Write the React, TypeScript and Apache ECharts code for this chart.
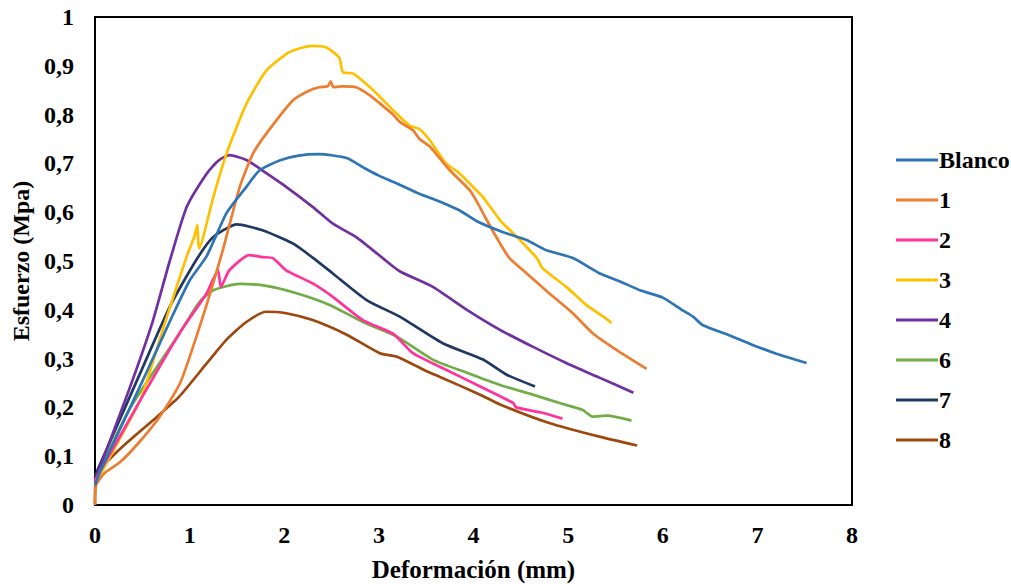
import React, { useEffect, useRef } from "react";
import * as echarts from "echarts";

const seriesNames = ["Blanco", "1", "2", "3", "4", "6", "7", "8"];
const seriesColors = ["#2E75B6", "#ED7D31", "#FF3399", "#FFC000", "#7030A0", "#70AD47", "#1F3864", "#9E480E"];

const blanco = [[0,0.04],[0.05,0.066],[0.3,0.17],[0.54,0.27],[0.8,0.38],[1.0,0.46],[1.18,0.51],[1.39,0.598],[1.6,0.652],[1.74,0.686],[1.95,0.706],[2.15,0.716],[2.37,0.719],[2.66,0.711],[2.85,0.69],[3.0,0.675],[3.19,0.659],[3.4,0.64],[3.6,0.625],[3.85,0.604],[4.03,0.582],[4.3,0.56],[4.56,0.543],[4.77,0.522],[5.05,0.506],[5.33,0.475],[5.55,0.458],[5.76,0.44],[6.0,0.425],[6.2,0.4],[6.32,0.386],[6.42,0.369],[6.7,0.348],[6.95,0.328],[7.2,0.31],[7.52,0.291]];
const s1 = [[0,0.0],[0.01,0.04],[0.1,0.065],[0.26,0.087],[0.45,0.125],[0.68,0.18],[0.9,0.25],[1.14,0.386],[1.35,0.522],[1.53,0.652],[1.67,0.72],[1.81,0.761],[2.09,0.829],[2.25,0.848],[2.37,0.856],[2.46,0.858],[2.49,0.868],[2.52,0.856],[2.6,0.858],[2.76,0.856],[2.9,0.84],[3.01,0.823],[3.15,0.8],[3.22,0.785],[3.36,0.768],[3.43,0.75],[3.54,0.734],[3.75,0.686],[3.96,0.645],[4.04,0.62],[4.14,0.584],[4.28,0.536],[4.38,0.506],[4.56,0.475],[4.8,0.434],[5.05,0.393],[5.26,0.352],[5.51,0.318],[5.83,0.279]];
const s2 = [[0,0.05],[0.5,0.222],[0.89,0.351],[1.18,0.434],[1.3,0.481],[1.33,0.447],[1.42,0.481],[1.63,0.512],[1.77,0.508],[1.88,0.506],[2.02,0.481],[2.3,0.454],[2.51,0.427],[2.83,0.379],[3.15,0.351],[3.36,0.311],[3.71,0.277],[4.07,0.243],[4.42,0.209],[4.45,0.2],[4.73,0.189],[4.94,0.177]];
const s3 = [[0,0.04],[0.05,0.06],[0.33,0.16],[0.49,0.22],[0.75,0.38],[0.97,0.51],[1.05,0.55],[1.08,0.573],[1.1,0.526],[1.25,0.631],[1.39,0.72],[1.6,0.822],[1.81,0.89],[2.02,0.924],[2.15,0.935],[2.3,0.941],[2.44,0.938],[2.58,0.917],[2.62,0.887],[2.73,0.884],[2.94,0.85],[3.15,0.809],[3.32,0.778],[3.43,0.77],[3.54,0.747],[3.71,0.7],[3.85,0.68],[4.03,0.645],[4.1,0.631],[4.28,0.584],[4.49,0.543],[4.67,0.506],[4.73,0.485],[4.98,0.447],[5.19,0.41],[5.38,0.385],[5.46,0.373]];
const s4 = [[0,0.05],[0.36,0.236],[0.6,0.37],[0.79,0.5],[0.97,0.611],[1.18,0.679],[1.3,0.705],[1.42,0.717],[1.6,0.707],[1.81,0.68],[2.02,0.652],[2.3,0.611],[2.51,0.577],[2.76,0.549],[3.04,0.506],[3.22,0.479],[3.57,0.447],[3.93,0.4],[4.28,0.359],[4.63,0.324],[4.98,0.291],[5.33,0.261],[5.69,0.23]];
const s6 = [[0,0.05],[0.36,0.195],[0.89,0.351],[1.1,0.415],[1.25,0.44],[1.53,0.453],[1.81,0.449],[2.13,0.434],[2.48,0.41],[2.83,0.375],[3.19,0.345],[3.57,0.298],[3.93,0.271],[4.28,0.246],[4.63,0.226],[4.91,0.209],[5.15,0.195],[5.26,0.181],[5.41,0.183],[5.67,0.173]];
const s7 = [[0,0.06],[0.5,0.28],[0.8,0.41],[1.07,0.502],[1.25,0.549],[1.5,0.575],[1.77,0.563],[2.09,0.536],[2.3,0.507],[2.51,0.475],[2.87,0.42],[3.22,0.386],[3.68,0.331],[4.1,0.298],[4.35,0.267],[4.65,0.243]];
const s8 = [[0,0.0],[0.01,0.058],[0.26,0.114],[0.65,0.18],[0.89,0.222],[1.18,0.29],[1.39,0.339],[1.6,0.375],[1.81,0.396],[2.02,0.393],[2.3,0.379],[2.66,0.349],[3.01,0.311],[3.19,0.304],[3.54,0.271],[3.64,0.263],[4.07,0.226],[4.28,0.206],[4.8,0.168],[5.33,0.14],[5.73,0.122]];
const seriesData = [blanco, s1, s2, s3, s4, s6, s7, s8];

const FONT = "'Liberation Serif', 'Times New Roman', serif";

export default function App() {
  const ref = useRef<HTMLDivElement>(null);
  useEffect(() => {
    if (!ref.current) return;
    const chart = echarts.init(ref.current, null, { renderer: "svg" });
    chart.setOption({
      animation: false,
      backgroundColor: "#fff",
      grid: { left: 95, top: 17, right: 159, bottom: 79, show: true, borderColor: "#000", borderWidth: 2, backgroundColor: "transparent", containLabel: false, outerBoundsMode: "none" },
      legend: {
        orient: "vertical",
        left: 891,
        top: 143,
        itemWidth: 42,
        itemHeight: 3,
        itemGap: 16,
        icon: "rect",
        data: seriesNames,
        textStyle: { fontFamily: FONT, fontWeight: "bold", fontSize: 24, color: "#000", lineHeight: 24, padding: [0, 0, 0, -4] },
      },
      xAxis: {
        type: "value",
        min: 0,
        max: 8,
        interval: 1,
        axisLine: { show: true, lineStyle: { color: "#000", width: 2 } },
        axisTick: { show: false },
        splitLine: { show: false },
        axisLabel: { fontFamily: FONT, fontWeight: "bold", fontSize: 24, color: "#000", margin: 18 },
        name: "Deformación (mm)",
        nameLocation: "middle",
        nameGap: 52,
        nameTextStyle: { fontFamily: FONT, fontWeight: "bold", fontSize: 25, color: "#000", lineHeight: 25 },
      },
      yAxis: {
        type: "value",
        min: 0,
        max: 1,
        interval: 0.1,
        axisLine: { show: true, lineStyle: { color: "#000", width: 2 } },
        axisTick: { show: false },
        splitLine: { show: false },
        axisLabel: {
          fontFamily: FONT, fontWeight: "bold", fontSize: 24, color: "#000", margin: 21,
          formatter: (v: number) => String(Math.round(v * 10) / 10).replace(".", ","),
        },
        name: "Esfuerzo (Mpa)",
        nameLocation: "middle",
        nameGap: 60,
        nameTextStyle: { fontFamily: FONT, fontWeight: "bold", fontSize: 24, color: "#000" },
      },
      series: seriesNames.map((n, i) => ({
        name: n,
        type: "line",
        data: seriesData[i],
        showSymbol: false,
        symbol: "none",
        smooth: 0.2,
        color: seriesColors[i],
        lineStyle: { width: 2.7, color: seriesColors[i] },
        z: 10 - i,
      })),
    });
    return () => chart.dispose();
  }, []);
  return <div ref={ref} style={{ position: "fixed", left: 0, top: 0, width: 1011, height: 584 }} />;
}
